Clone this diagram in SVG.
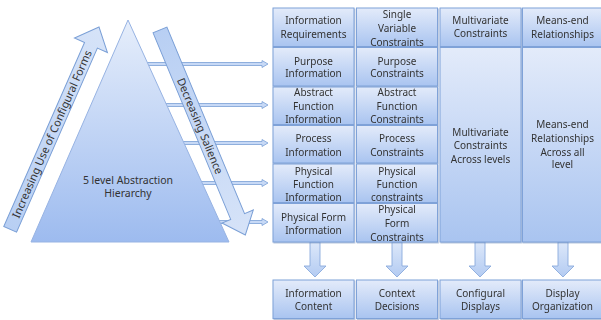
<svg xmlns="http://www.w3.org/2000/svg" width="601" height="320" viewBox="0 0 601 320">
<defs>
<linearGradient id="gCell" x1="0" y1="0" x2="0" y2="1">
<stop offset="0" stop-color="#e3ebfa"/>
<stop offset="1" stop-color="#a9c4f0"/>
</linearGradient>
<linearGradient id="gTri" x1="0" y1="0" x2="0" y2="1">
<stop offset="0" stop-color="#e6eefb"/>
<stop offset="1" stop-color="#9dbbef"/>
</linearGradient>
<linearGradient id="gArr" x1="0" y1="0" x2="1" y2="0">
<stop offset="0" stop-color="#b8cff3"/>
<stop offset="1" stop-color="#d6e3f8"/>
</linearGradient>
<linearGradient id="gDown" x1="0" y1="0" x2="0" y2="1">
<stop offset="0" stop-color="#dde8fa"/>
<stop offset="1" stop-color="#b3cbf2"/>
</linearGradient>
<filter id="sh" x="-5%" y="-5%" width="115%" height="120%">
<feDropShadow dx="0.8" dy="1" stdDeviation="0.7" flood-color="#5a7bb0" flood-opacity="0.45"/>
</filter>
</defs>
<style>
.cell{fill:url(#gCell);stroke:#7fa2d8;stroke-width:1}
.t{font-family:"Noto Sans","Open Sans","DejaVu Sans",sans-serif;font-size:10px;fill:#333;text-anchor:middle}
.r{font-size:11px}
.ha{fill:#c7d9f6;stroke:#7a9fd6;stroke-width:0.8}
.ba{fill:url(#gArr);stroke:#7a9fd6;stroke-width:1}
.da{fill:url(#gDown);stroke:#8aaadc;stroke-width:0.9}
</style>

<g id="connectors">
<path class="ha" d="M140,62.5 H262 V60.5 L268,64 L262,67.5 V65.5 H140 Z"/>
<path class="ha" d="M140,103.5 H262 V101.5 L268,105 L262,108.5 V106.5 H140 Z"/>
<path class="ha" d="M150,141.5 H262 V139.5 L268,143 L262,146.5 V144.5 H150 Z"/>
<path class="ha" d="M170,181.5 H262 V179.5 L268,183 L262,186.5 V184.5 H170 Z"/>
<path class="ha" d="M190,220.5 H262 V218.5 L268,222 L262,225.5 V223.5 H190 Z"/>
<path class="da" d="M310,242 H320 V266 H326 L315,277 L304,266 H310 Z"/>
<path class="da" d="M392,242 H402 V266 H408 L397,277 L386,266 H392 Z"/>
<path class="da" d="M475,242 H485 V266 H491 L480,277 L469,266 H475 Z"/>
<path class="da" d="M558,242 H568 V266 H574 L563,277 L552,266 H558 Z"/>
</g>

<g id="hierarchy">
<polygon points="128,20 31,242 229,242" fill="url(#gTri)" stroke="#97b3e3" stroke-width="1"/>
<text class="t" x="128" y="184" style="font-size:10.5px">5 level Abstraction</text>
<text class="t" x="128" y="197" style="font-size:10.5px">Hierarchy</text>
</g>

<g id="arrow-configural" transform="translate(99,27) rotate(-66.3)">
<path class="ba" d="M0,0 L-20,-18 L-20,-7 L-221,-7 L-221,7 L-20,7 L-20,18 Z"/>
<text class="t r" x="-117" y="3.8">Increasing Use of Configural Forms</text>
</g>

<g id="arrow-salience" transform="translate(160,30) rotate(67.4)">
<path class="ba" d="M0,-7.5 L202,-7.5 L202,-17 L222,0 L202,17 L202,7.5 L0,7.5 Z"/>
<text class="t r" x="104" y="3.8">Decreasing Salience</text>
</g>

<g id="grid" filter="url(#sh)">
<g id="c-info-req"><rect class="cell" x="273" y="8" width="81" height="38.5"/>
<text class="t" x="313.5" y="23.5">Information</text><text class="t" x="313.5" y="37.5">Requirements</text></g>
<g id="c-single"><rect class="cell" x="356.5" y="8" width="81" height="38.5"/>
<text class="t" x="397" y="18">Single</text><text class="t" x="397" y="31.5">Variable</text><text class="t" x="397" y="45.5">Constraints</text></g>
<g id="c-multi"><rect class="cell" x="440" y="8" width="81" height="38.5"/>
<text class="t" x="480.5" y="23.5">Multivariate</text><text class="t" x="480.5" y="37">Constraints</text></g>
<g id="c-means"><rect class="cell" x="522.5" y="8" width="81" height="38.5"/>
<text class="t" x="562.5" y="23.5">Means-end</text><text class="t" x="562.5" y="37.5">Relationships</text></g>

<g id="c-purpose-info"><rect class="cell" x="273" y="47.5" width="81" height="38.5"/>
<text class="t" x="313.5" y="64.5">Purpose</text><text class="t" x="313.5" y="77">Information</text></g>
<g id="c-purpose-con"><rect class="cell" x="356.5" y="47.5" width="81" height="38.5"/>
<text class="t" x="397" y="64.5">Purpose</text><text class="t" x="397" y="77">Constraints</text></g>

<g id="c-abs-info"><rect class="cell" x="273" y="87" width="81" height="37.5"/>
<text class="t" x="313.5" y="95.5">Abstract</text><text class="t" x="313.5" y="109.5">Function</text><text class="t" x="313.5" y="123">Information</text></g>
<g id="c-abs-con"><rect class="cell" x="356.5" y="87" width="81" height="37.5"/>
<text class="t" x="397" y="95.5">Abstract</text><text class="t" x="397" y="109.5">Function</text><text class="t" x="397" y="123">Constraints</text></g>

<g id="c-proc-info"><rect class="cell" x="273" y="125.5" width="81" height="37.5"/>
<text class="t" x="313.5" y="141.5">Process</text><text class="t" x="313.5" y="155.5">Information</text></g>
<g id="c-proc-con"><rect class="cell" x="356.5" y="125.5" width="81" height="37.5"/>
<text class="t" x="397" y="141.5">Process</text><text class="t" x="397" y="155.5">Constraints</text></g>

<g id="c-pf-info"><rect class="cell" x="273" y="164" width="81" height="38.5"/>
<text class="t" x="313.5" y="174.5">Physical</text><text class="t" x="313.5" y="187.5">Function</text><text class="t" x="313.5" y="201">Information</text></g>
<g id="c-pf-con"><rect class="cell" x="356.5" y="164" width="81" height="38.5"/>
<text class="t" x="397" y="174.5">Physical</text><text class="t" x="397" y="187.5">Function</text><text class="t" x="397" y="200.5">constraints</text></g>

<g id="c-pform-info"><rect class="cell" x="273" y="203.5" width="81" height="38.5"/>
<text class="t" x="313.5" y="220.5">Physical Form</text><text class="t" x="313.5" y="233.5">Information</text></g>
<g id="c-pform-con"><rect class="cell" x="356.5" y="203.5" width="81" height="38.5"/>
<text class="t" x="397" y="213">Physical</text><text class="t" x="397" y="226.5">Form</text><text class="t" x="397" y="240.5">Constraints</text></g>

<g id="c-multi-across"><rect class="cell" x="440" y="47.5" width="81" height="194.5"/>
<text class="t" x="480.5" y="135.5">Multivariate</text><text class="t" x="480.5" y="148.5">Constraints</text><text class="t" x="480.5" y="162.5">Across levels</text></g>
<g id="c-means-across"><rect class="cell" x="522.5" y="47.5" width="81" height="194.5"/>
<text class="t" x="562.5" y="127.5">Means-end</text><text class="t" x="562.5" y="141.5">Relationships</text><text class="t" x="562.5" y="155.5">Across all</text><text class="t" x="562.5" y="168">level</text></g>

<g id="b-content"><rect class="cell" x="273" y="280" width="81" height="38.5"/>
<text class="t" x="313.5" y="296.5">Information</text><text class="t" x="313.5" y="309.5">Content</text></g>
<g id="b-context"><rect class="cell" x="356.5" y="280" width="81" height="38.5"/>
<text class="t" x="397" y="296.5">Context</text><text class="t" x="397" y="309.5">Decisions</text></g>
<g id="b-configural"><rect class="cell" x="440" y="280" width="81" height="38.5"/>
<text class="t" x="480.5" y="296.5">Configural</text><text class="t" x="480.5" y="309.5">Displays</text></g>
<g id="b-display"><rect class="cell" x="522.5" y="280" width="81" height="38.5"/>
<text class="t" x="562.5" y="296.5">Display</text><text class="t" x="562.5" y="309.5">Organization</text></g>
</g>
</svg>
